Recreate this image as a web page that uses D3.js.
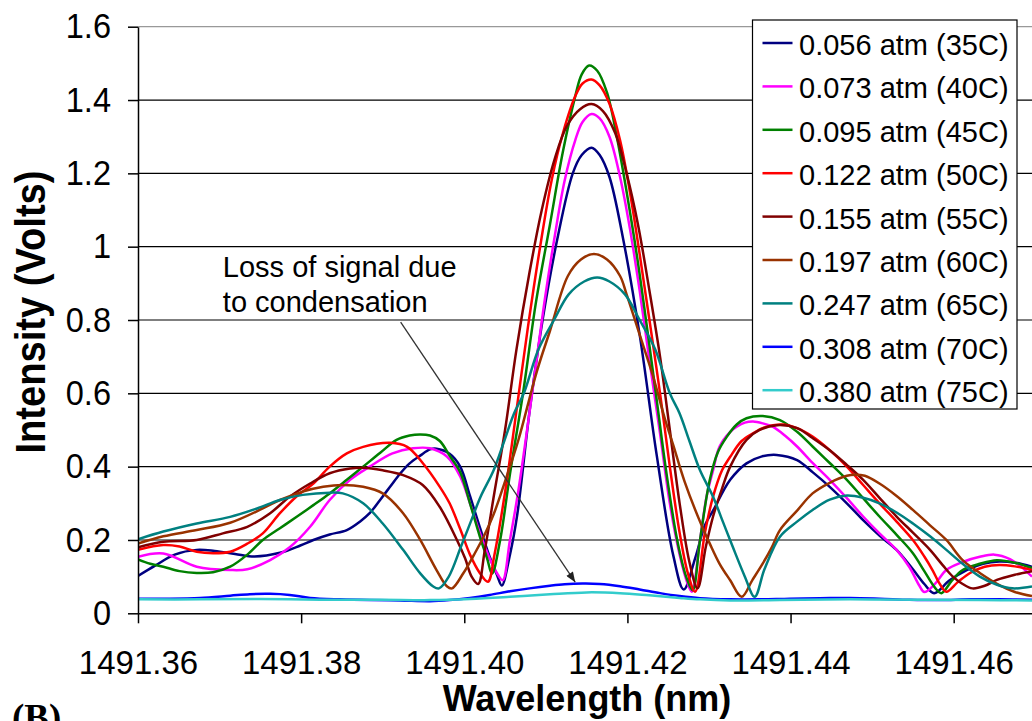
<!DOCTYPE html>
<html lang="en">
<head>
<meta charset="UTF-8">
<title>Intensity vs Wavelength</title>
<script src="https://cdn.jsdelivr.net/npm/d3@7"></script>
<style>
  body { margin: 0; background: #fff; }
  text { font-family: "Liberation Sans", Arial, sans-serif; fill: #000; }
</style>
</head>
<body>
<div id="chart"></div>
<script>
// legend entries and line colours
const labels = ["0.056 atm (35C)", "0.073 atm (40C)", "0.095 atm (45C)", "0.122 atm (50C)", "0.155 atm (55C)",
                "0.197 atm (60C)", "0.247 atm (65C)", "0.308 atm (70C)", "0.380 atm (75C)"]
const colors = ["#000080", "#ff00ff", "#008000", "#ff0000", "#800000", "#993300", "#008080", "#0000ff", "#33cccc"]

const xTicks = [1491.36, 1491.38, 1491.40, 1491.42, 1491.44, 1491.46]
const yTicks = [0, 0.2, 0.4, 0.6, 0.8, 1.0, 1.2, 1.4, 1.6]

// [wavelength (nm), intensity (V)]
const p035 = [[1491.3600,0.102],[1491.3621,0.13],[1491.3645,0.16],[1491.3672,0.173],[1491.3694,0.17],[1491.3719,0.162],
  [1491.3743,0.155],[1491.3774,0.165],[1491.3799,0.185],[1491.3815,0.2],[1491.3835,0.215],[1491.3856,0.227],[1491.3872,0.25],
  [1491.3884,0.273],[1491.3897,0.31],[1491.3909,0.345],[1491.3921,0.38],[1491.3933,0.409],[1491.3946,0.43],[1491.3958,0.447],
  [1491.3966,0.449],[1491.3982,0.435],[1491.3995,0.40],[1491.4007,0.32],[1491.4019,0.235],[1491.4031,0.155],[1491.4040,0.105],
  [1491.4046,0.076],[1491.4056,0.16],[1491.4065,0.27],[1491.4080,0.55],[1491.4096,0.80],[1491.4114,1.02],[1491.4133,1.2],
  [1491.4144,1.25],[1491.4156,1.27],[1491.4166,1.25],[1491.4178,1.19],[1491.4194,1.03],[1491.4215,0.76],[1491.4236,0.43],
  [1491.4256,0.16],[1491.4269,0.065],[1491.4283,0.15],[1491.4295,0.24],[1491.4305,0.28],[1491.4326,0.364],[1491.4346,0.409],
  [1491.4365,0.428],[1491.4383,0.432],[1491.4408,0.418],[1491.4427,0.385],[1491.4448,0.345],[1491.4469,0.3],[1491.4489,0.254],
  [1491.4509,0.212],[1491.4530,0.173],[1491.4550,0.12],[1491.4564,0.08],[1491.4576,0.055],[1491.4595,0.09],[1491.4616,0.118],
  [1491.4636,0.135],[1491.4656,0.141],[1491.4675,0.138],[1491.4696,0.127]]

const p040 = [[1491.3600,0.154],[1491.3631,0.163],[1491.3672,0.127],[1491.3713,0.118],[1491.3734,0.12],[1491.3762,0.145],
  [1491.3786,0.18],[1491.3811,0.236],[1491.3835,0.309],[1491.3860,0.364],[1491.3884,0.4],[1491.3912,0.436],[1491.3937,0.45],
  [1491.3958,0.45],[1491.3979,0.427],[1491.3995,0.373],[1491.4007,0.30],[1491.4019,0.22],[1491.4031,0.15],[1491.4040,0.11],
  [1491.4047,0.09],[1491.4056,0.2],[1491.4066,0.33],[1491.4077,0.5],[1491.4088,0.68],[1491.4099,0.86],[1491.4111,1.03],
  [1491.4123,1.18],[1491.4136,1.29],[1491.4145,1.34],[1491.4156,1.362],[1491.4166,1.35],[1491.4178,1.3],[1491.4191,1.19],
  [1491.4203,1.05],[1491.4215,0.88],[1491.4227,0.69],[1491.4240,0.49],[1491.4252,0.3],[1491.4264,0.16],[1491.4274,0.08],
  [1491.4279,0.059],[1491.4289,0.2],[1491.4297,0.318],[1491.4305,0.39],[1491.4313,0.455],[1491.4326,0.495],[1491.4334,0.509],
  [1491.4344,0.52],[1491.4354,0.523],[1491.4366,0.518],[1491.4378,0.509],[1491.4393,0.485],[1491.4408,0.455],[1491.4427,0.41],
  [1491.4448,0.364],[1491.4469,0.314],[1491.4489,0.264],[1491.4509,0.218],[1491.4530,0.173],[1491.4546,0.125],[1491.4558,0.075],
  [1491.4564,0.058],[1491.4577,0.08],[1491.4591,0.118],[1491.4611,0.14],[1491.4632,0.154],[1491.4650,0.16],[1491.4669,0.148],
  [1491.4681,0.13],[1491.4696,0.1]]

const p045 = [[1491.3600,0.147],[1491.3615,0.135],[1491.3631,0.127],[1491.3651,0.115],[1491.3672,0.11],[1491.3692,0.112],
  [1491.3713,0.127],[1491.3734,0.16],[1491.3753,0.2],[1491.3774,0.232],[1491.3795,0.264],[1491.3815,0.295],[1491.3835,0.327],
  [1491.3856,0.364],[1491.3876,0.4],[1491.3897,0.438],[1491.3917,0.473],[1491.3933,0.485],[1491.3946,0.488],[1491.3958,0.485],
  [1491.3970,0.47],[1491.3982,0.43],[1491.3995,0.385],[1491.4007,0.3],[1491.4019,0.21],[1491.4028,0.15],[1491.4034,0.108],
  [1491.4044,0.2],[1491.4056,0.38],[1491.4072,0.6],[1491.4088,0.85],[1491.4105,1.06],[1491.4121,1.26],[1491.4136,1.41],
  [1491.4144,1.47],[1491.4153,1.494],[1491.4163,1.48],[1491.4175,1.42],[1491.4187,1.3],[1491.4199,1.15],[1491.4212,0.97],
  [1491.4224,0.78],[1491.4236,0.58],[1491.4248,0.38],[1491.4261,0.2],[1491.4272,0.1],[1491.4280,0.063],[1491.4289,0.2],
  [1491.4301,0.364],[1491.4311,0.44],[1491.4322,0.482],[1491.4334,0.515],[1491.4346,0.532],[1491.4366,0.538],[1491.4387,0.527],
  [1491.4408,0.495],[1491.4427,0.455],[1491.4448,0.41],[1491.4469,0.364],[1491.4489,0.314],[1491.4509,0.264],[1491.4530,0.214],
  [1491.4550,0.164],[1491.4564,0.115],[1491.4577,0.07],[1491.4585,0.055],[1491.4598,0.09],[1491.4611,0.118],[1491.4632,0.135],
  [1491.4653,0.145],[1491.4675,0.138],[1491.4696,0.123]]

const p050 = [[1491.3600,0.173],[1491.3631,0.186],[1491.3651,0.182],[1491.3672,0.168],[1491.3692,0.164],[1491.3713,0.168],
  [1491.3734,0.19],[1491.3753,0.218],[1491.3774,0.273],[1491.3795,0.32],[1491.3815,0.354],[1491.3835,0.4],[1491.3856,0.436],
  [1491.3876,0.454],[1491.3909,0.465],[1491.3930,0.454],[1491.3949,0.41],[1491.3970,0.345],[1491.3982,0.3],[1491.3995,0.23],
  [1491.4007,0.16],[1491.4019,0.11],[1491.4029,0.086],[1491.4037,0.16],[1491.4050,0.33],[1491.4062,0.52],[1491.4078,0.78],
  [1491.4093,1.0],[1491.4107,1.18],[1491.4121,1.31],[1491.4136,1.41],[1491.4145,1.445],[1491.4156,1.456],[1491.4166,1.44],
  [1491.4178,1.39],[1491.4191,1.29],[1491.4203,1.15],[1491.4215,0.98],[1491.4227,0.8],[1491.4240,0.6],[1491.4252,0.4],
  [1491.4264,0.22],[1491.4274,0.11],[1491.4283,0.059],[1491.4295,0.22],[1491.4305,0.318],[1491.4316,0.39],[1491.4326,0.427],
  [1491.4340,0.47],[1491.4354,0.491],[1491.4368,0.507],[1491.4390,0.515],[1491.4408,0.505],[1491.4427,0.482],[1491.4448,0.445],
  [1491.4469,0.4],[1491.4489,0.35],[1491.4509,0.3],[1491.4530,0.25],[1491.4550,0.2],[1491.4564,0.155],[1491.4574,0.118],
  [1491.4583,0.08],[1491.4591,0.059],[1491.4605,0.085],[1491.4620,0.11],[1491.4638,0.127],[1491.4656,0.132],[1491.4675,0.128],
  [1491.4696,0.118]]

const p055 = [[1491.3600,0.18],[1491.3631,0.195],[1491.3672,0.2],[1491.3704,0.218],[1491.3734,0.236],[1491.3762,0.273],
  [1491.3786,0.318],[1491.3811,0.354],[1491.3835,0.382],[1491.3860,0.395],[1491.3876,0.397],[1491.3900,0.39],[1491.3925,0.377],
  [1491.3949,0.35],[1491.3970,0.29],[1491.3991,0.2],[1491.4001,0.15],[1491.4009,0.1],[1491.4017,0.08],[1491.4025,0.17],
  [1491.4037,0.33],[1491.4050,0.5],[1491.4064,0.72],[1491.4080,0.93],[1491.4095,1.1],[1491.4111,1.24],[1491.4126,1.33],
  [1491.4142,1.375],[1491.4156,1.389],[1491.4170,1.37],[1491.4185,1.31],[1491.4199,1.2],[1491.4213,1.06],[1491.4227,0.88],
  [1491.4240,0.7],[1491.4252,0.5],[1491.4264,0.3],[1491.4276,0.14],[1491.4286,0.068],[1491.4296,0.18],[1491.4305,0.264],
  [1491.4316,0.34],[1491.4326,0.4],[1491.4346,0.473],[1491.4362,0.5],[1491.4383,0.513],[1491.4408,0.505],[1491.4427,0.478],
  [1491.4448,0.445],[1491.4469,0.405],[1491.4489,0.364],[1491.4509,0.315],[1491.4530,0.264],[1491.4550,0.22],[1491.4571,0.173],
  [1491.4587,0.13],[1491.4599,0.1],[1491.4611,0.08],[1491.4623,0.068],[1491.4638,0.075],[1491.4653,0.091],[1491.4675,0.105],
  [1491.4696,0.115]]

const p060 = [[1491.3600,0.19],[1491.3631,0.21],[1491.3672,0.227],[1491.3713,0.247],[1491.3753,0.286],[1491.3774,0.309],
  [1491.3802,0.332],[1491.3827,0.345],[1491.3851,0.35],[1491.3876,0.345],[1491.3900,0.327],[1491.3925,0.273],[1491.3946,0.2],
  [1491.3966,0.118],[1491.3979,0.073],[1491.3985,0.068],[1491.3999,0.11],[1491.4012,0.16],[1491.4024,0.21],[1491.4036,0.27],
  [1491.4050,0.36],[1491.4066,0.47],[1491.4089,0.66],[1491.4105,0.77],[1491.4127,0.92],[1491.4143,0.965],[1491.4159,0.98],
  [1491.4175,0.965],[1491.4191,0.92],[1491.4199,0.87],[1491.4215,0.76],[1491.4231,0.65],[1491.4246,0.53],[1491.4256,0.46],
  [1491.4270,0.36],[1491.4289,0.25],[1491.4301,0.19],[1491.4313,0.135],[1491.4326,0.09],[1491.4340,0.045],[1491.4353,0.09],
  [1491.4366,0.136],[1491.4377,0.18],[1491.4387,0.227],[1491.4408,0.28],[1491.4427,0.327],[1491.4448,0.356],[1491.4469,0.375],
  [1491.4479,0.378],[1491.4491,0.375],[1491.4509,0.354],[1491.4530,0.32],[1491.4550,0.282],[1491.4571,0.24],[1491.4591,0.2],
  [1491.4611,0.145],[1491.4632,0.11],[1491.4656,0.077],[1491.4675,0.058],[1491.4696,0.047]]

const p065 = [[1491.3600,0.202],[1491.3631,0.223],[1491.3672,0.245],[1491.3713,0.263],[1491.3746,0.286],[1491.3774,0.309],
  [1491.3802,0.323],[1491.3835,0.329],[1491.3851,0.327],[1491.3876,0.3],[1491.3900,0.245],[1491.3925,0.173],[1491.3946,0.109],
  [1491.3962,0.073],[1491.3969,0.068],[1491.3981,0.1],[1491.3996,0.182],[1491.4008,0.25],[1491.4020,0.318],[1491.4036,0.39],
  [1491.4049,0.47],[1491.4061,0.545],[1491.4073,0.6],[1491.4091,0.72],[1491.4110,0.8],[1491.4128,0.87],[1491.4147,0.905],
  [1491.4163,0.916],[1491.4178,0.905],[1491.4197,0.87],[1491.4215,0.8],[1491.4234,0.72],[1491.4252,0.6],[1491.4264,0.545],
  [1491.4276,0.47],[1491.4289,0.39],[1491.4305,0.318],[1491.4317,0.25],[1491.4329,0.182],[1491.4344,0.1],[1491.4356,0.045],
  [1491.4368,0.12],[1491.4387,0.209],[1491.4408,0.25],[1491.4427,0.282],[1491.4448,0.31],[1491.4469,0.321],[1491.4489,0.315],
  [1491.4509,0.3],[1491.4530,0.275],[1491.4550,0.245],[1491.4571,0.21],[1491.4591,0.173],[1491.4611,0.135],[1491.4632,0.1],
  [1491.4653,0.078],[1491.4672,0.068],[1491.4696,0.073]]

const p070 = [[1491.3600,0.04],[1491.3639,0.04],[1491.3676,0.042],[1491.3713,0.048],[1491.3737,0.052],[1491.3762,0.053],
  [1491.3786,0.05],[1491.3811,0.042],[1491.3848,0.038],[1491.3884,0.036],[1491.3921,0.035],[1491.3958,0.033],[1491.3982,0.036],
  [1491.4007,0.042],[1491.4031,0.05],[1491.4056,0.06],[1491.4080,0.068],[1491.4105,0.075],[1491.4123,0.079],[1491.4145,0.081],
  [1491.4166,0.08],[1491.4191,0.074],[1491.4215,0.065],[1491.4240,0.055],[1491.4264,0.047],[1491.4289,0.041],[1491.4326,0.038],
  [1491.4362,0.038],[1491.4399,0.04],[1491.4436,0.041],[1491.4473,0.042],[1491.4509,0.04],[1491.4546,0.037],[1491.4583,0.036],
  [1491.4620,0.038],[1491.4656,0.038],[1491.4696,0.037]]

const p075 = [[1491.3600,0.038],[1491.3676,0.038],[1491.3750,0.039],[1491.3823,0.037],[1491.3897,0.037],[1491.3958,0.036],
  [1491.4007,0.039],[1491.4056,0.045],[1491.4105,0.052],[1491.4150,0.057],[1491.4191,0.055],[1491.4227,0.049],[1491.4264,0.042],
  [1491.4289,0.038],[1491.4326,0.035],[1491.4387,0.036],[1491.4473,0.038],[1491.4558,0.037],[1491.4632,0.036],[1491.4696,0.035]]

const series = [p035, p040, p045, p050, p055, p060, p065, p070, p075]

// annotation text and arrow (data coordinates)
const noteLines = ["Loss of signal due", "to condensation"]
const noteAt = [1491.3704, 0.916]
const arrowFrom = [1491.3922, 0.794]
const arrowTo = [1491.4136, 0.085]

const width = 1032, height = 721
const plotL = 138, plotR = 1032, plotT = 26.7, plotB = 613.3

const svg = d3.select("#chart").append("svg")
    .attr("width", width)
    .attr("height", height)

const x = d3.scaleLinear().domain([1491.36, 1491.4696]).range([plotL, plotR])
const y = d3.scaleLinear().domain([0, 1.6]).range([plotB, plotT])

// horizontal gridlines
svg.append("g").selectAll("line")
  .data(yTicks.filter(d => d > 0))
  .join("line")
    .attr("x1", plotL).attr("x2", plotR)
    .attr("y1", d => y(d)).attr("y2", d => y(d))
    .attr("stroke", d => d === 1.6 ? "#999" : "#000")
    .attr("stroke-width", 1.2)

svg.append("defs").append("clipPath").attr("id", "plot")
  .append("rect").attr("x", plotL).attr("y", plotT).attr("width", plotR - plotL).attr("height", plotB - plotT)

const line = d3.line()
    .x(d => x(d[0]))
    .y(d => y(d[1]))
    .curve(d3.curveCatmullRom)

svg.append("g").attr("clip-path", "url(#plot)")
  .selectAll("path")
  .data(series)
  .join("path")
    .attr("d", line)
    .attr("fill", "none")
    .attr("stroke", (d, i) => colors[i])
    .attr("stroke-width", 2.5)

// axes -- y tick labels in the original are a bit taller than wide, so squeeze them
function squeeze(sel, k) {
  sel.each(function () {
    const w = this.getComputedTextLength()
    d3.select(this).attr("textLength", w * k).attr("lengthAdjust", "spacingAndGlyphs")
  })
}

const yAxis = svg.append("g")
    .attr("transform", `translate(${plotL},0)`)
    .call(d3.axisLeft(y).tickValues(yTicks).tickSize(10).tickSizeOuter(0).tickPadding(17)
      .tickFormat(d => String(+d.toFixed(1))))
yAxis.selectAll("text").attr("font-size", 35).attr("font-family", "Liberation Sans, Arial, sans-serif").call(squeeze, 0.93)
yAxis.selectAll("line, path").attr("stroke", "#000").attr("stroke-width", 1.5)

const xAxis = svg.append("g")
    .attr("transform", `translate(0,${plotB})`)
    .call(d3.axisBottom(x).tickValues(xTicks).tickSize(10).tickSizeOuter(0).tickPadding(27)
      .tickFormat(d => d.toFixed(2)))
xAxis.selectAll("text").attr("font-size", 33).attr("font-family", "Liberation Sans, Arial, sans-serif")
xAxis.selectAll("line, path").attr("stroke", "#000").attr("stroke-width", 1.5)

// axis titles
svg.append("text")
    .attr("x", 587).attr("y", 711)
    .attr("text-anchor", "middle")
    .attr("font-size", 36).attr("font-weight", "bold")
    .text("Wavelength (nm)")

svg.append("text")
    .attr("transform", "translate(45,312) rotate(-90)")
    .attr("text-anchor", "middle")
    .attr("font-size", 43).attr("font-weight", "bold")
    .attr("textLength", 283).attr("lengthAdjust", "spacingAndGlyphs")
    .text("Intensity (Volts)")

svg.append("text")
    .attr("x", 12).attr("y", 730)
    .attr("font-size", 37).attr("font-weight", "bold")
    .style("font-family", "Liberation Serif, Times New Roman, serif")
    .text("(B)")

// annotation
svg.append("defs").append("marker")
    .attr("id", "head")
    .attr("viewBox", "0 0 10 8")
    .attr("refX", 10).attr("refY", 4)
    .attr("markerWidth", 11).attr("markerHeight", 8)
    .attr("markerUnits", "userSpaceOnUse")
    .attr("orient", "auto")
  .append("path").attr("d", "M0,0L10,4L0,8Z").attr("fill", "#222")

svg.append("line")
    .attr("x1", x(arrowFrom[0])).attr("y1", y(arrowFrom[1]))
    .attr("x2", x(arrowTo[0])).attr("y2", y(arrowTo[1]))
    .attr("stroke", "#333").attr("stroke-width", 1.3)
    .attr("marker-end", "url(#head)")

svg.append("g").selectAll("text")
  .data(noteLines)
  .join("text")
    .attr("x", x(noteAt[0]))
    .attr("y", (d, i) => y(noteAt[1]) + i * 35)
    .attr("font-size", 29)
    .text(d => d)

// legend
const legend = svg.append("g").attr("transform", "translate(752.5,20)")
legend.append("rect")
    .attr("width", 264.5).attr("height", 389)
    .attr("fill", "#fff").attr("stroke", "#000").attr("stroke-width", 1.2)

const item = legend.selectAll("g.item")
  .data(labels)
  .join("g")
    .attr("class", "item")
    .attr("transform", (d, i) => `translate(0,${23 + i * 43.4})`)
item.append("line")
    .attr("x1", 10).attr("x2", 40)
    .attr("stroke", (d, i) => colors[i]).attr("stroke-width", 2.5)
item.append("text")
    .attr("x", 46.5).attr("y", 12)
    .attr("font-size", 29)
    .text(d => d)
</script>
</body>
</html>
